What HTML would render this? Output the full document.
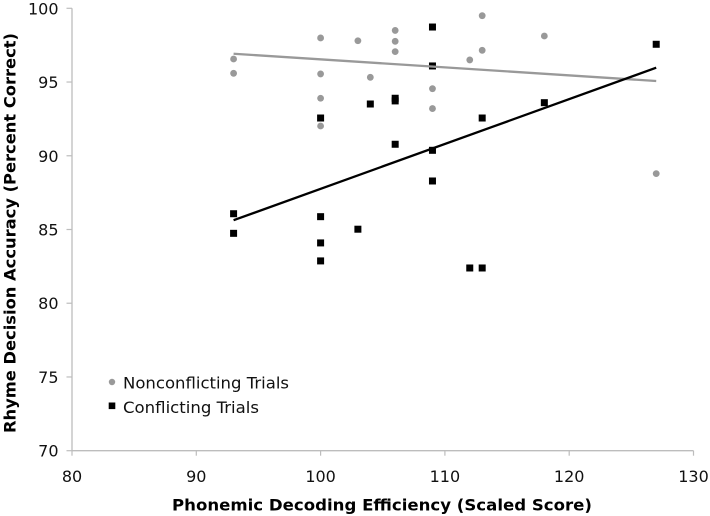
<!DOCTYPE html>
<html lang="en">
<head>
<meta charset="utf-8">
<title>Rhyme Decision Accuracy vs Phonemic Decoding Efficiency</title>
<style>
  html, body { margin: 0; padding: 0; background: #fff; }
  svg { display: block; font-family: "DejaVu Sans", "Liberation Sans", sans-serif; }
  .tick-label { font-size: 16px; fill: #111; }
  .axis-title { font-size: 16px; font-weight: bold; fill: #000; }
  .legend-label { font-size: 16.2px; fill: #111; }
</style>
</head>
<body>
<svg id="chart" width="710" height="516" viewBox="0 0 710 516" xmlns="http://www.w3.org/2000/svg">
  <rect x="0" y="0" width="710" height="516" fill="#ffffff"/>
  <g id="axes"></g>
  <g id="marks"></g>
  <text class="axis-title" x="382" y="510.5" text-anchor="middle" textLength="420" lengthAdjust="spacingAndGlyphs">Phonemic Decoding Efficiency (Scaled Score)</text>
  <text class="axis-title" transform="translate(15.5 233) rotate(-90)" text-anchor="middle" textLength="400" lengthAdjust="spacingAndGlyphs">Rhyme Decision Accuracy (Percent Correct)</text>
  <g>
    <circle cx="112" cy="382" r="3.2" fill="#999999"/>
    <text class="legend-label" x="123" y="388.5" textLength="166" lengthAdjust="spacingAndGlyphs">Nonconflicting Trials</text>
    <rect x="108.7" y="402.5" width="6.6" height="6.6" fill="#000000"/>
    <text class="legend-label" x="123" y="413" textLength="136" lengthAdjust="spacingAndGlyphs">Conflicting Trials</text>
  </g>
</svg>
<script>
const xTicks = [80, 90, 100, 110, 120, 130];
const yTicks = [70, 75, 80, 85, 90, 95, 100];

const nonconflictingX = [93, 93, 100, 100, 100, 100, 103, 104, 106, 106, 106, 109, 109, 112, 113, 113, 118, 127];
const nonconflictingY = [96.56, 95.59, 97.99, 95.55, 93.9, 92.02, 97.8, 95.32, 98.5, 97.76, 97.06, 94.55, 93.2, 96.5, 99.5, 97.15, 98.12, 88.79];

const conflictingX = [93, 93, 100, 100, 100, 100, 103, 104, 106, 106, 106, 109, 109, 109, 109, 112, 113, 113, 118, 127];
const conflictingY = [86.07, 84.74, 92.56, 85.87, 84.09, 82.87, 85.02, 93.51, 93.9, 93.72, 90.78, 98.73, 96.09, 90.37, 88.29, 82.39, 82.39, 92.56, 93.6, 97.56];

const nonconflictingTrendX = [93, 127];
const nonconflictingTrendY = [96.92, 95.07];
const conflictingTrendX = [93, 127];
const conflictingTrendY = [85.63, 95.97];

const NS = 'http://www.w3.org/2000/svg';
const plotLeft = 72, plotRight = 693.5, plotTop = 8.3, plotBottom = 450.7;
const xMin = xTicks[0], xMax = xTicks[xTicks.length - 1];
const yMin = yTicks[0], yMax = yTicks[yTicks.length - 1];

function xScale(v) {
  return plotLeft + (v - xMin) / (xMax - xMin) * (plotRight - plotLeft);
}
function yScale(v) {
  return plotBottom - (v - yMin) / (yMax - yMin) * (plotBottom - plotTop);
}
function make(tag, attrs) {
  const el = document.createElementNS(NS, tag);
  for (const k in attrs) el.setAttribute(k, attrs[k]);
  return el;
}

const axes = document.getElementById('axes');
const marks = document.getElementById('marks');
const axisColor = '#bdbdbd';

const xAxisLine = make('line', { x1: plotLeft, y1: plotBottom, x2: plotRight, y2: plotBottom, stroke: axisColor, 'stroke-width': 1.3 });


axes.appendChild(xAxisLine);

const yAxisLine = make('line', { x1: plotLeft, y1: plotTop, x2: plotLeft, y2: plotBottom, stroke: axisColor, 'stroke-width': 1.3 });


axes.appendChild(yAxisLine);

xTicks.forEach(function (t) {
  const mark = make('line', { x1: xScale(t), y1: plotBottom, x2: xScale(t), y2: plotBottom + 5, stroke: axisColor, 'stroke-width': 1.2 });
  
  
  axes.appendChild(mark);
  const label = make('text', { x: xScale(t), y: 482, 'text-anchor': 'middle', 'class': 'tick-label' });
  
  
  label.textContent = t;
  axes.appendChild(label);
});

yTicks.forEach(function (t) {
  const mark = make('line', { x1: plotLeft - 5.5, y1: yScale(t), x2: plotLeft, y2: yScale(t), stroke: axisColor, 'stroke-width': 1.2 });
  
  
  axes.appendChild(mark);
  const label = make('text', { x: 58.5, y: yScale(t) + 6, 'text-anchor': 'end', 'class': 'tick-label' });
  
  
  label.textContent = t;
  axes.appendChild(label);
});

nonconflictingX.forEach(function (x, i) {
  const dot = make('circle', { cx: xScale(x), cy: yScale(nonconflictingY[i]), r: 3.4, fill: '#999999' });
  
  
  marks.appendChild(dot);
});

conflictingX.forEach(function (x, i) {
  const size = 7;
  const sq = make('rect', { x: xScale(x) - size / 2, y: yScale(conflictingY[i]) - size / 2, width: size, height: size, fill: '#000000' });
  
  
  marks.appendChild(sq);
});

const grayTrend = make('line', {
  x1: xScale(nonconflictingTrendX[0]), y1: yScale(nonconflictingTrendY[0]),
  x2: xScale(nonconflictingTrendX[1]), y2: yScale(nonconflictingTrendY[1]),
  stroke: '#999999', 'stroke-width': 2.3
});


marks.appendChild(grayTrend);

const blackTrend = make('line', {
  x1: xScale(conflictingTrendX[0]), y1: yScale(conflictingTrendY[0]),
  x2: xScale(conflictingTrendX[1]), y2: yScale(conflictingTrendY[1]),
  stroke: '#000000', 'stroke-width': 2.3
});


marks.appendChild(blackTrend);
</script>
</body>
</html>
